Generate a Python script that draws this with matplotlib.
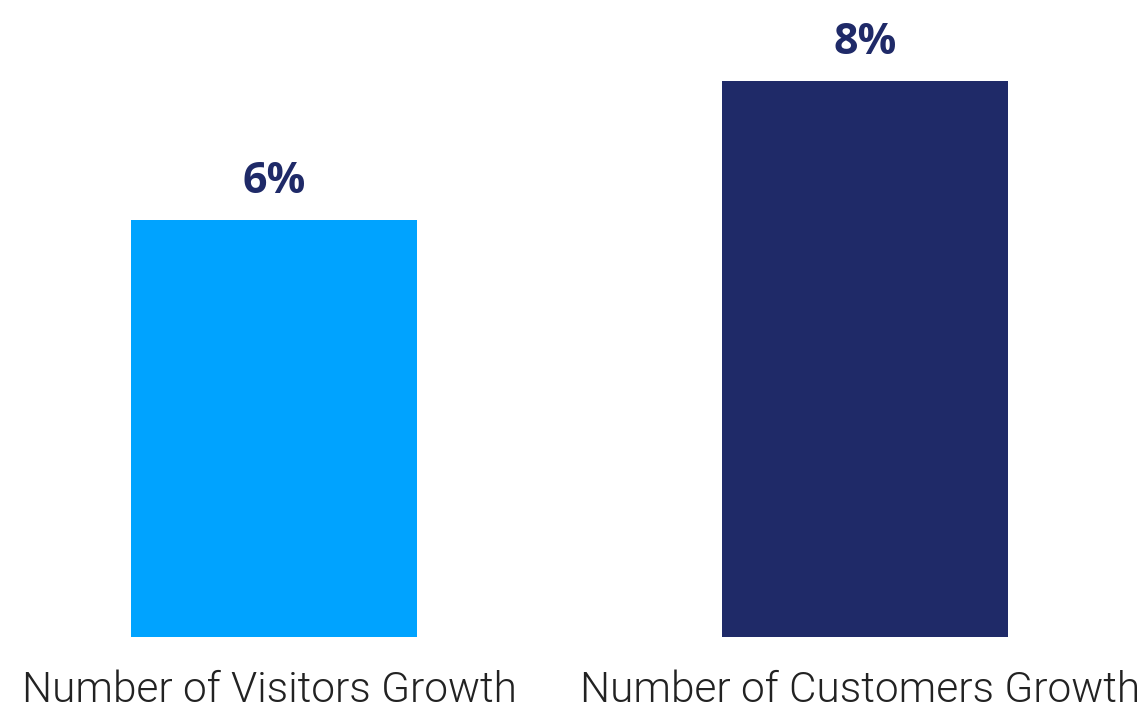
import matplotlib
matplotlib.use("Agg")
from matplotlib import pyplot as plt
from matplotlib.transforms import ScaledTranslation

categories = ["Number of Visitors Growth", "Number of Customers Growth"]
values = [6, 8]
labels = ["6%", "8%"]
colors = ["#00A3FF", "#1F2A68"]

fig = plt.figure(figsize=(11.42, 7.10), dpi=100)
ax = fig.add_axes([0, 73 / 710, 1, 637 / 710])

x = range(len(values))
bars = ax.bar(x, values, width=0.484, color=colors)

for b, lab in zip(bars, labels):
    ax.annotate(lab, (b.get_x() + b.get_width() / 2, b.get_height()),
                xytext=(0, 12), textcoords="offset points",
                ha="center", va="bottom", fontsize=31, fontweight="bold",
                family="Open Sans", color="#1F2A68")

ax.set_xlim(-0.4636, 1.4687)
ax.set_ylim(0, 9.165)
ax.set_xticks(list(x))
ax.set_xticklabels(categories, fontsize=30.5, family="Roboto", fontweight=300,
                   color="#222222")
ax.tick_params(axis="x", length=0, pad=24)
# labels sit a touch left of the bar centres in the original
shift = ScaledTranslation(-5 / 100, 0, fig.dpi_scale_trans)
for t in ax.get_xticklabels():
    t.set_transform(t.get_transform() + shift)
ax.set_yticks([])
for s in ax.spines.values():
    s.set_visible(False)

fig.savefig("out.png", dpi=100)
